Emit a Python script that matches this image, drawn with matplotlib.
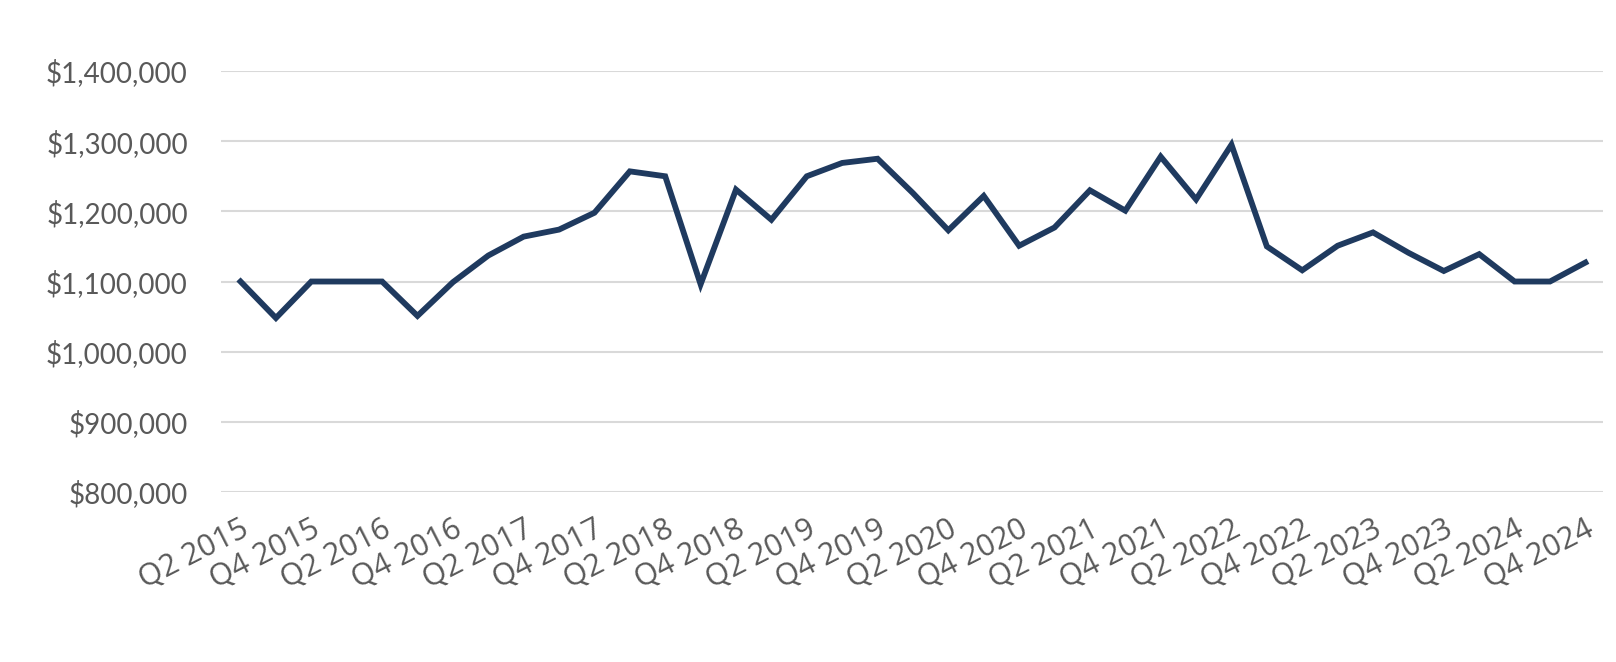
import matplotlib
matplotlib.use('Agg')
import matplotlib.pyplot as plt
from matplotlib.ticker import FuncFormatter

matplotlib.rcParams['font.family'] = ['Lato', 'DejaVu Sans']

# 분기 라벨 (Q2 2015 ~ Q4 2024)
quarters = []
for year in range(2015, 2025):
    for q in range(1, 5):
        if year == 2015 and q < 2:
            continue
        quarters.append(f"Q{q} {year}")

# 중간값
values = [1100000, 1048000, 1100000, 1100000, 1100000, 1051000, 1099000, 1137000,
          1164000, 1174000, 1198000, 1257000, 1250000, 1096000, 1231000, 1188000,
          1250000, 1269000, 1275000, 1226000, 1173000, 1222000, 1151000, 1177000,
          1230000, 1201000, 1278000, 1217000, 1295000, 1150000, 1116000, 1151000,
          1170000, 1141000, 1115000, 1139000, 1100000, 1100000, 1127000]

y_ticks = [800000, 900000, 1000000, 1100000, 1200000, 1300000, 1400000]

fig = plt.figure(figsize=(16.16, 6.62), dpi=100)
ax = fig.add_axes([0.1368, 0.2568, 0.992 - 0.1368, 0.8927 - 0.2568])

x = list(range(len(quarters)))
ax.plot(x, values, color='#1f3a5f', linewidth=4.2, solid_joinstyle='miter', zorder=3)

ax.set_ylim(800000, 1400000)
ax.set_xlim(-0.55, len(quarters) - 0.5)
ax.set_yticks(y_ticks)
ax.yaxis.set_major_formatter(FuncFormatter(lambda v, p: f"${v:,.0f}"))
ax.grid(axis='y', color='#d9d9d9', linewidth=1.5)
ax.set_axisbelow(True)

tick_pos = x[::2]
ax.set_xticks(tick_pos)
ax.set_xticklabels([quarters[i] for i in tick_pos], rotation=27, ha='right',
                   rotation_mode='anchor', family=['Open Sans', 'DejaVu Sans'],
                   fontweight='medium')

ax.tick_params(axis='both', length=0, labelcolor='#595959')
ax.tick_params(axis='y', labelsize=20, pad=24)
ax.tick_params(axis='x', labelsize=22, pad=16)
for s in ax.spines.values():
    s.set_visible(False)

plt.savefig('out.png', dpi=100)
